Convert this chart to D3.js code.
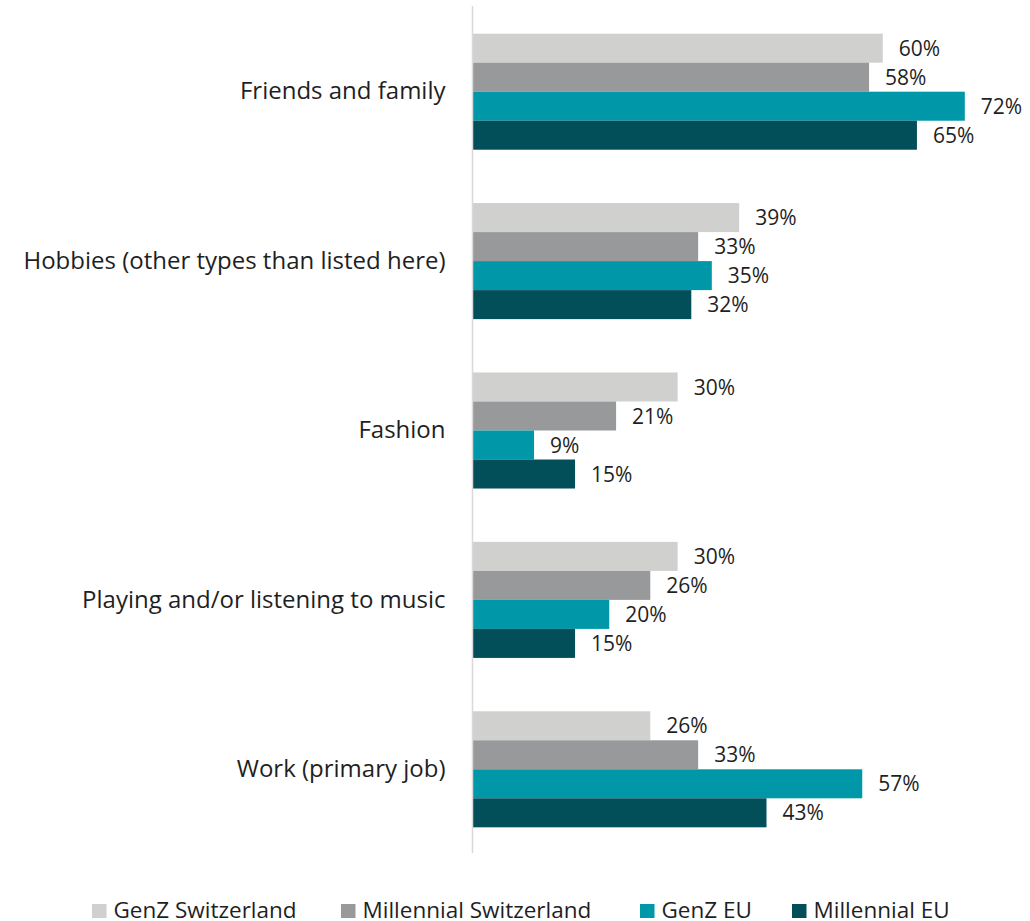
<!DOCTYPE html>
<html>
<head>
<meta charset="utf-8">
<script src="https://cdn.jsdelivr.net/npm/d3@7"></script>
<style>
  html, body { margin: 0; padding: 0; background: #ffffff; }
  svg { display: block; }
  text { font-family: "Open Sans", "Noto Sans", sans-serif; fill: #1f1f1f; }
</style>
</head>
<body>
<svg id="chart" width="1030" height="921"></svg>
<script>
// Interests by generation and region (share of respondents)
const categories = [
  "Friends and family",
  "Hobbies (other types than listed here)",
  "Fashion",
  "Playing and/or listening to music",
  "Work (primary job)"
];
const seriesNames = ["GenZ Switzerland", "Millennial Switzerland", "GenZ EU", "Millennial EU"];
const seriesColors = ["#d0d0ce", "#98999b", "#0097a9", "#024f5a"];

const genzCH       = [0.60, 0.39, 0.30, 0.30, 0.26];
const millennialCH = [0.58, 0.33, 0.21, 0.26, 0.33];
const genzEU       = [0.72, 0.35, 0.09, 0.20, 0.57];
const millennialEU = [0.65, 0.32, 0.15, 0.15, 0.43];
const seriesValues = [genzCH, millennialCH, genzEU, millennialEU];

const svg = d3.select("#chart");

const axisX = 472.5;
const plotTop = 7, plotBottom = 854;

const x = d3.scaleLinear().domain([0, 0.8]).range([axisX, axisX + 547]);

const y0 = d3.scaleBand()
  .domain(categories)
  .range([plotTop, plotBottom])
  .paddingInner(0.315)
  .paddingOuter(0.1575);

const y1 = d3.scaleBand()
  .domain(seriesNames)
  .range([0, y0.bandwidth()])
  .padding(0);

const fmt = d3.format(".0%");

const groups = svg.append("g")
  .selectAll("g")
  .data(categories)
  .join("g")
  .attr("transform", d => `translate(0,${y0(d)})`);

groups.each(function(cat, ci) {
  const g = d3.select(this);
  const rows = seriesNames.map((s, si) => ({ s, si, v: seriesValues[si][ci] }));
  g.selectAll("rect")
    .data(rows)
    .join("rect")
    .attr("x", x(0))
    .attr("y", d => y1(d.s))
    .attr("width", d => x(d.v) - x(0))
    .attr("height", y1.bandwidth())
    .attr("fill", d => seriesColors[d.si]);
  g.selectAll("text.val")
    .data(rows)
    .join("text")
    .attr("class", "val")
    .attr("x", d => x(d.v) + 16)
    .attr("y", d => y1(d.s) + y1.bandwidth() / 2)
    .attr("dy", "0.36em")
    .style("font-size", "21px")
    .text(d => fmt(d.v));
});

// Category axis on the left
const yAxis = d3.axisLeft(y0).tickSize(0).tickPadding(27);
const axisG = svg.append("g")
  .attr("transform", `translate(${axisX},0)`)
  .call(yAxis);
axisG.select(".domain").remove();
axisG.selectAll("text")
  .style("font-size", "24px")
  .style("font-family", "'Open Sans', sans-serif")
  .attr("fill", "#1f1f1f");

svg.append("line")
  .attr("x1", axisX).attr("x2", axisX)
  .attr("y1", plotTop - 1).attr("y2", plotBottom - 1)
  .attr("stroke", "#d9d9d9")
  .attr("stroke-width", 1.5);

// Legend
const legendX = [92, 341, 640, 792];
const legend = svg.append("g")
  .selectAll("g")
  .data(seriesNames)
  .join("g")
  .attr("transform", (d, i) => `translate(${legendX[i]},904)`);
legend.append("rect")
  .attr("width", 14.5).attr("height", 14)
  .attr("fill", (d, i) => seriesColors[i]);
legend.append("text")
  .attr("x", 21.5)
  .attr("y", 6)
  .attr("dy", "0.36em")
  .style("font-size", "22.5px")
  .text(d => d);
</script>
</body>
</html>
